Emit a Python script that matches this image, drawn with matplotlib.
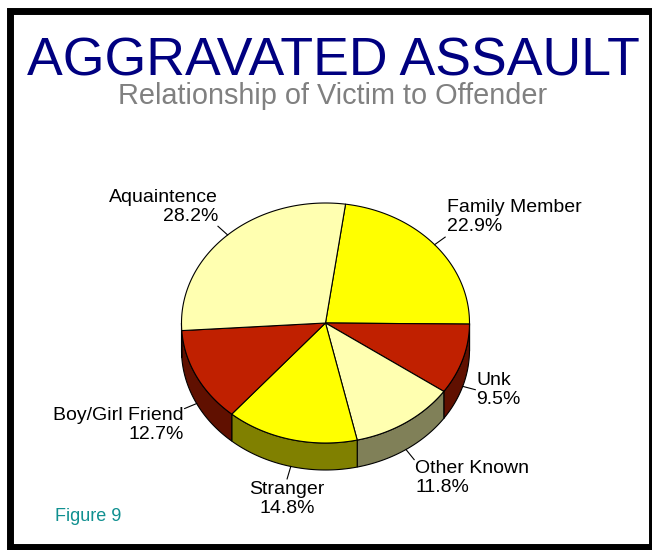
import matplotlib
matplotlib.use("Agg")
import matplotlib.pyplot as plt
import numpy as np
from matplotlib.patches import Rectangle

# relationship of victim to offender, percent of cases
categories = ["Family Member", "Unk", "Other Known", "Stranger",
              "Boy/Girl Friend", "Aquaintence"]
percents = [22.9, 9.5, 11.8, 14.8, 12.7, 28.2]

title = "AGGRAVATED ASSAULT"
subtitle = "Relationship of Victim to Offender"
figure_note = "Figure 9"

# styling
top_colors = ["#FFFF00", "#C02000", "#FFFFB0", "#FFFF00", "#C02000", "#FFFFB0"]
label_align = [("left", "bottom", 2, -2), ("left", "center", 1, 0),
               ("left", "top", 1, 0), ("center", "top", 0, 2),
               ("right", "top", -1, -2), ("right", "bottom", 0, -1)]

W, H = 652, 550
CX, CY = 325.5, 323.0       # pie centre, pixels
RX, RY = 144.0, 120.0       # ellipse radii of the top face
DEPTH = 27.0                # thickness of the pie
START = 82.0                # angle of the first wedge edge, degrees
LEADER = 13.0

plt.rcParams["font.family"] = ["Liberation Sans", "DejaVu Sans"]

fig = plt.figure(figsize=(W / 100, H / 100), dpi=100)
fig.patch.set_facecolor("white")
ax = fig.add_axes([0, 0, 1, 1])
ax.set_xlim(0, W)
ax.set_ylim(H, 0)
ax.axis("off")


def pt(theta, drop=0.0):
    t = np.radians(theta)
    return CX + RX * np.cos(t), CY - RY * np.sin(t) + drop


def darker(c, f=0.5):
    rgb = np.array(matplotlib.colors.to_rgb(c)) * f
    return tuple(rgb)


fracs = np.array(percents) / np.sum(percents)
edges = START - np.concatenate([[0], np.cumsum(fracs)]) * 360.0

# side walls: only the front half (angles between -180 and 0) is visible
for i in range(len(percents)):
    a0, a1 = edges[i], edges[i + 1]
    for lo, hi in [(-180.0, 0.0), (-540.0, -360.0), (180.0, 360.0)]:
        b0, b1 = min(a0, hi), max(a1, lo)
        if b0 <= b1:
            continue
        th = np.linspace(b0, b1, 80)
        xs, ys = pt(th)
        xb, yb = pt(th[::-1], DEPTH)
        ax.fill(np.concatenate([xs, xb]), np.concatenate([ys, yb]),
                facecolor=darker(top_colors[i]), edgecolor="black",
                linewidth=0.8, zorder=1)

# top faces
for i in range(len(percents)):
    th = np.linspace(edges[i], edges[i + 1], 120)
    xs, ys = pt(th)
    ax.fill(np.concatenate([[CX], xs]), np.concatenate([[CY], ys]),
            facecolor=top_colors[i], edgecolor="black", linewidth=0.8,
            zorder=2, joinstyle="round")

# labels with short leader lines
for i, name in enumerate(categories):
    mid = (edges[i] + edges[i + 1]) / 2.0
    drop = DEPTH if np.sin(np.radians(mid)) < 0 else 0.0
    x0, y0 = pt(mid, drop)
    d = np.array([RX * np.cos(np.radians(mid)), -RY * np.sin(np.radians(mid))])
    d /= np.hypot(*d)
    x1, y1 = x0 + LEADER * d[0], y0 + LEADER * d[1]
    ax.plot([x0, x1], [y0, y1], color="black", linewidth=0.8, zorder=3)
    ha, va, ox, oy = label_align[i]
    ax.text(x1 + ox, y1 + oy, f"{name}\n{percents[i]:.1f}%", ha=ha, va=va,
            fontsize=14, color="black", linespacing=1.17, zorder=4,
            multialignment=ha)

ax.text(333.5, 75, title, ha="center", va="baseline", fontsize=38.6,
        color="#000080")
ax.text(332.5, 104, subtitle, ha="center", va="baseline", fontsize=20.8,
        color="#808080")
ax.text(55, 521, figure_note, ha="left", va="baseline", fontsize=13,
        color="#109090")

# black frame around the whole panel
ax.add_patch(Rectangle((9.5, 11.0), 642.5, 535.5, fill=False,
                       edgecolor="black", linewidth=5.0, zorder=5,
                       clip_on=True))

fig.savefig("out.png", dpi=100, facecolor="white")
